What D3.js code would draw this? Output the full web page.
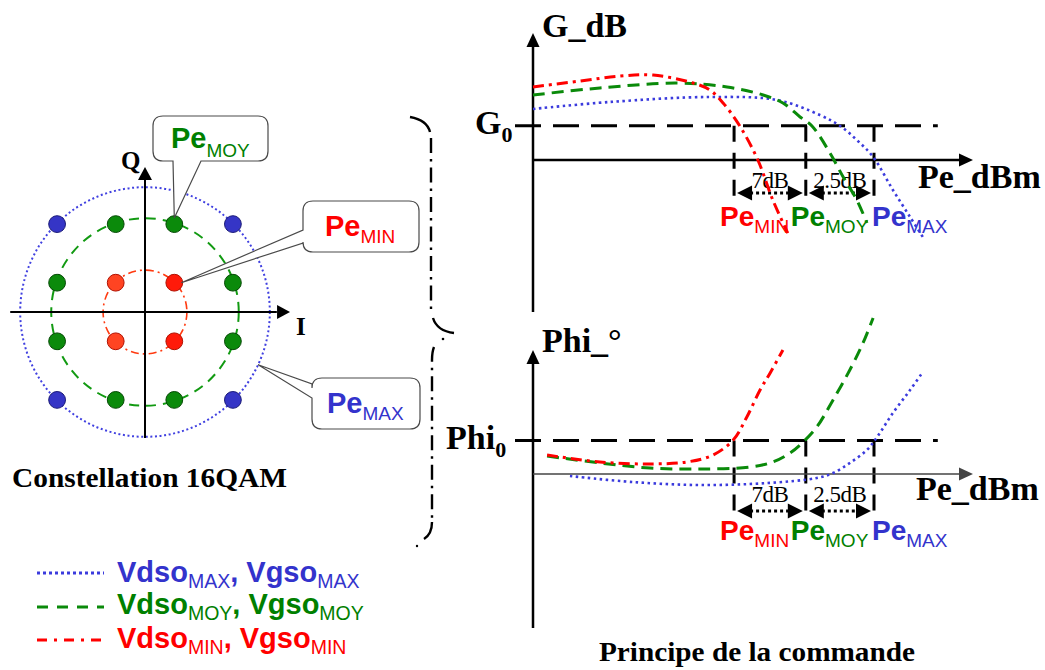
<!DOCTYPE html>
<html>
<head>
<meta charset="utf-8">
<script src="https://cdn.jsdelivr.net/npm/d3@7"></script>
<style>
  html, body { margin: 0; padding: 0; background: #fff; }
  svg { display: block; }
</style>
</head>
<body>
<svg id="fig" width="1045" height="670"></svg>
<script>
// ---------------- data ----------------
// 16QAM constellation levels (I and Q)
const iqLevels = [-3, -1, 1, 3];
// power classes and the amplitude of each ring
const classNames = ["MAX", "MOY", "MIN"];
const ringRadius = [4.26, 3.2, 1.43];

// input powers where each bias setting reaches the reference level (Pe, arbitrary units)
const peMarks = [45.7, 62.0, 77.5];          // Pe MIN, Pe MOY, Pe MAX
const stepLabels = ["7dB", "2.5dB"];
const g0 = 27;                                // reference gain G0
const phi0 = 27;                              // reference phase Phi0

// gain vs input power, one curve per bias setting  [Pe, G]
const gainMax = [[0, 40.2], [17.5, 45.7], [40.2, 49.6], [55.5, 47.2], [65.2, 35.4], [69.8, 26.8],
                 [73.6, 15.7], [77.3, 2.4], [81.8, -23.6], [85.7, -44.9], [88.6, -60.6]];
const gainMoy = [[0, 51.2], [15.2, 56.7], [32.7, 60.6], [44.1, 57.5], [52.3, 51.2], [56.8, 44.9],
                 [60.7, 33.9], [63.4, 26.8], [67.5, 5.5], [70.5, -13.4], [73.6, -31.5], [75.9, -49.6]];
const gainMin = [[0, 57.5], [10.7, 62.2], [19.8, 66.1], [27.3, 66.9], [36.4, 60.6], [40.2, 55.1],
                 [43.2, 44.9], [47.0, 26.8], [51.1, 0], [54.5, -31.5], [57.9, -57.5]];

// phase vs input power  [Pe, Phi]
const phaseMax = [[8.4, -1.6], [22.7, -6.5], [38.0, -8.9], [53.2, -7.3], [64.5, -3.2], [68.2, 0.8],
                  [72.0, 8.9], [75.9, 19.4], [78.2, 29.8], [81.8, 49.2], [85.7, 67.7], [88.6, 82.3]];
const phaseMoy = [[3.2, 14.5], [15.2, 8.9], [26.6, 4.8], [38.0, 4.0], [49.3, 5.6], [54.5, 9.7],
                  [58.4, 16.9], [61.4, 25.8], [64.5, 37.9], [68.2, 59.7], [72.0, 83.9], [75.0, 105.6], [77.3, 125.8]];
const phaseMin = [[3.2, 15.3], [15.2, 9.7], [26.6, 8.1], [35.0, 9.7], [40.9, 15.3], [45.5, 27.4],
                  [48.6, 46.0], [51.6, 67.7], [53.9, 81.5], [56.8, 100]];

// ---------------- styles ----------------
const color = { MAX: "#3333cc", MOY: "#008000", MIN: "#ff0000" };
const curveColor = { MAX: "#3b3bdd", MOY: "#0a8a0a", MIN: "#ff0000" };
const dash = { MAX: "2.5,3.5", MOY: "12,7", MIN: "11,5,3,5" };
const SANS = "'Liberation Sans', Arial, sans-serif";
const SERIF = "'Liberation Serif', 'Times New Roman', serif";

const svg = d3.select("#fig");

// text made of runs, some of them lowered as subscripts
function richText(parent, x, y, parts, o) {
  const t = parent.append("text").attr("x", x).attr("y", y).attr("font-family", o.family || SANS);
  let shift = 0;
  parts.forEach(([s, sub, fill]) => {
    const target = sub ? o.subShift : 0;
    t.append("tspan")
      .attr("dy", target - shift)
      .attr("font-size", sub ? o.small : o.big)
      .attr("font-weight", sub ? (o.subWeight || "normal") : (o.weight || "bold"))
      .attr("fill", fill)
      .text(s);
    shift = target;
  });
  return t;
}

function arrowHead(g, x, y, dir, len, half, fill) {
  const p = {
    up:    [[x, y], [x - half, y + len], [x + half, y + len]],
    right: [[x, y], [x - len, y - half], [x - len, y + half]],
    left:  [[x, y], [x + len, y - half], [x + len, y + half]]
  }[dir];
  g.append("polygon").attr("points", p.map(d => d.join(",")).join(" ")).attr("fill", fill || "#000");
}

// ================= constellation =================
const unit = 29.3, cx = 145, cy = 312;
const iScale = d3.scaleLinear().domain([-3, 3]).range([cx - 3 * unit, cx + 3 * unit]);
const qScale = d3.scaleLinear().domain([-3, 3]).range([cy + 3 * unit, cy - 3 * unit]);
const rPx = v => iScale(v) - iScale(0);

const cons = svg.append("g");

// amplitude rings
const ringStyle = {
  MAX: { stroke: "#4040e0", width: 2, dash: "2,2.6" },
  MOY: { stroke: "#129a12", width: 2, dash: "10,7" },
  MIN: { stroke: "#ff3a10", width: 1.6, dash: "8,4,2,4" }
};
classNames.forEach((n, i) => {
  cons.append("circle")
    .attr("cx", iScale(0)).attr("cy", qScale(0)).attr("r", rPx(ringRadius[i]))
    .attr("fill", "none")
    .attr("stroke", ringStyle[n].stroke)
    .attr("stroke-width", ringStyle[n].width)
    .attr("stroke-dasharray", ringStyle[n].dash);
});

// I / Q axes
cons.append("line").attr("x1", iScale(-4.6)).attr("x2", iScale(4.5))
  .attr("y1", qScale(0)).attr("y2", qScale(0)).attr("stroke", "#000").attr("stroke-width", 2);
arrowHead(cons, iScale(4.95), qScale(0), "right", 13, 7);
cons.append("line").attr("x1", iScale(0)).attr("x2", iScale(0))
  .attr("y1", qScale(-4.3)).attr("y2", qScale(4.6)).attr("stroke", "#000").attr("stroke-width", 2);
arrowHead(cons, iScale(0), qScale(4.95), "up", 13, 7);

cons.append("text").attr("x", 121).attr("y", 169).attr("font-family", SERIF)
  .attr("font-weight", "bold").attr("font-size", 25).text("Q");
cons.append("text").attr("x", 296).attr("y", 335).attr("font-family", SERIF)
  .attr("font-weight", "bold").attr("font-size", 25).text("I");

// symbols
const points = d3.cross(iqLevels, iqLevels);
function symbolClass([i, q]) {
  if (Math.abs(i) === 3 && Math.abs(q) === 3) return "MAX";
  if (Math.abs(i) === 1 && Math.abs(q) === 1) return "MIN";
  return "MOY";
}
const dotFill = { MAX: "#3535c6", MOY: "#0b8a0b", MIN: "#ff1a0a" };
const dotEdge = { MAX: "#1a1a78", MOY: "#064a06", MIN: "#b01000" };
cons.selectAll("circle.sym").data(points).join("circle")
  .attr("class", "sym")
  .attr("cx", d => iScale(d[0])).attr("cy", d => qScale(d[1])).attr("r", 8.4)
  .attr("fill", d => (symbolClass(d) === "MIN" && d[0] < 0) ? "#ff4422" : dotFill[symbolClass(d)])
  .attr("stroke", d => dotEdge[symbolClass(d)]).attr("stroke-width", 1);

// callout boxes
function calloutPath(x, y, w, h, r, side, t0, t1, tip) {
  const p = d3.path();
  p.moveTo(x + r, y);
  p.lineTo(x + w - r, y);
  p.quadraticCurveTo(x + w, y, x + w, y + r);
  p.lineTo(x + w, y + h - r);
  p.quadraticCurveTo(x + w, y + h, x + w - r, y + h);
  if (side === "bottom") { p.lineTo(t1, y + h); p.lineTo(tip[0], tip[1]); p.lineTo(t0, y + h); }
  p.lineTo(x + r, y + h);
  p.quadraticCurveTo(x, y + h, x, y + h - r);
  if (side === "left") { p.lineTo(x, t1); p.lineTo(tip[0], tip[1]); p.lineTo(x, t0); }
  p.lineTo(x, y + r);
  p.quadraticCurveTo(x, y, x + r, y);
  p.closePath();
  return p.toString();
}
const boxStyle = g => g.attr("fill", "#fff").attr("stroke", "#4a4a4a").attr("stroke-width", 1.2);

// Pe MOY -> top edge of symbol (1, 3)
cons.append("path").call(boxStyle)
  .attr("d", calloutPath(153, 116, 115, 45, 10, "bottom", 173, 201, [iScale(1), qScale(3) - 6]));
richText(cons, 171, 148, [["Pe", false, color.MOY], ["MOY", true, color.MOY]],
  { big: 29, small: 19, subShift: 9 });

// Pe MIN -> symbol (1, 1)
cons.append("path").call(boxStyle)
  .attr("d", calloutPath(303, 201, 116, 51, 10, "left", 230, 243, [iScale(1) + 7, qScale(1)]));
richText(cons, 325, 236, [["Pe", false, color.MIN], ["MIN", true, color.MIN]],
  { big: 29, small: 19, subShift: 7 });

// Pe MAX -> outer ring
const ang = -25 * Math.PI / 180;
cons.append("path").call(boxStyle)
  .attr("d", calloutPath(312, 378, 108, 51, 10, "left", 384, 398,
    [iScale(ringRadius[0] * Math.cos(ang)), qScale(ringRadius[0] * Math.sin(ang))]));
richText(cons, 327, 413, [["Pe", false, color.MAX], ["MAX", true, color.MAX]],
  { big: 29, small: 19, subShift: 7 });

cons.append("text").attr("x", 12).attr("y", 487).attr("font-family", SERIF)
  .attr("font-weight", "bold").attr("font-size", 28)
  .attr("textLength", 275).attr("lengthAdjust", "spacingAndGlyphs")
  .text("Constellation 16QAM");

// ================= legend =================
const legend = svg.append("g");
const legendRows = [
  { n: "MAX", lineY: 573, textY: 582 },
  { n: "MOY", lineY: 607, textY: 614 },
  { n: "MIN", lineY: 640, textY: 648 }
];
legendRows.forEach(r => {
  legend.append("line").attr("x1", 37).attr("x2", 104).attr("y1", r.lineY).attr("y2", r.lineY)
    .attr("stroke", curveColor[r.n]).attr("stroke-width", 3)
    .attr("stroke-dasharray", r.n === "MAX" ? "3,3" : (r.n === "MOY" ? "11,9" : "10,7,3,7"));
  const c = color[r.n];
  richText(legend, 117, r.textY,
    [["Vdso", false, c], [r.n, true, c], [", Vgso", false, c], [r.n, true, c]],
    { big: 29, small: 19.5, subShift: 6 });
});

// ================= brace =================
const brace = svg.append("g").attr("fill", "none").attr("stroke", "#000").attr("stroke-width", 2.4);
brace.append("path").attr("d", "M410,117 Q427,120 430,132");
brace.append("path").attr("d", "M431,138 L431,312").attr("stroke-dasharray", "15,6,2.5,6");
brace.append("path").attr("d", "M433,318 Q437,331 454,333");
brace.append("path").attr("d", "M434,347 Q432,352 432,360 L432,520").attr("stroke-dasharray", "15,6,2.5,6");
brace.append("path").attr("d", "M432,522 Q432,534 424,539");
brace.append("circle").attr("cx", 443).attr("cy", 339).attr("r", 1.3).attr("fill", "#000").attr("stroke", "none");
brace.append("circle").attr("cx", 417).attr("cy", 546).attr("r", 1.2).attr("fill", "#000").attr("stroke", "none");

// ================= transfer curves =================
const xScale = d3.scaleLinear().domain([0, 100]).range([533, 973]);
const gainScale = d3.scaleLinear().domain([0, 100]).range([160, 33]);
const phaseScale = d3.scaleLinear().domain([0, 100]).range([474, 350]);

function drawChart(cfg) {
  const g = svg.append("g");
  const y = cfg.y;
  const x0 = xScale(0);
  const yRef = y(cfg.ref);

  // reference level
  g.append("line").attr("x1", x0 - 18).attr("x2", xScale(92)).attr("y1", yRef).attr("y2", yRef)
    .attr("stroke", "#000").attr("stroke-width", 3).attr("stroke-dasharray", "26,12");

  // drop lines at each Pe
  peMarks.forEach(p => {
    g.append("line").attr("x1", xScale(p)).attr("x2", xScale(p))
      .attr("y1", yRef).attr("y2", cfg.dropBottom)
      .attr("stroke", "#000").attr("stroke-width", 3).attr("stroke-dasharray", "16,11");
  });

  // axes
  g.append("line").attr("x1", x0).attr("x2", x0).attr("y1", cfg.yAxisBottom).attr("y2", y.range()[1] + 8)
    .attr("stroke", "#000").attr("stroke-width", 2.5);
  arrowHead(g, x0, y.range()[1], "up", 14, 6.5);
  g.append("line").attr("x1", x0).attr("x2", xScale(100) - 8).attr("y1", y(0)).attr("y2", y(0))
    .attr("stroke", cfg.xAxisColor).attr("stroke-width", cfg.xAxisWidth);
  arrowHead(g, xScale(100), y(0), "right", 14, 6.5, cfg.xAxisColor);

  // axis titles
  g.append("text").attr("x", 542).attr("y", cfg.titleY).attr("font-family", SERIF)
    .attr("font-weight", "bold").attr("font-size", 34).text(cfg.title);
  g.append("text").attr("x", cfg.peTitleX).attr("y", cfg.peTitleY).attr("font-family", SERIF)
    .attr("font-weight", "bold").attr("font-size", 34).text("Pe_dBm");
  richText(g, cfg.refLabelX, yRef + 8, [[cfg.refLabel, false, "#000"], ["0", true, "#000"]],
    { family: SERIF, big: 34, small: 22, subShift: 8, subWeight: "bold" });

  // power steps between marks
  for (let i = 0; i < peMarks.length - 1; i++) {
    const a = xScale(peMarks[i]), b = xScale(peMarks[i + 1]);
    g.append("line").attr("x1", a + 16).attr("x2", b - 16).attr("y1", cfg.dimY).attr("y2", cfg.dimY)
      .attr("stroke", "#000").attr("stroke-width", 3).attr("stroke-dasharray", "3,3");
    arrowHead(g, a + 3, cfg.dimY, "left", 15, 7.5);
    arrowHead(g, b - 3, cfg.dimY, "right", 15, 7.5);
    g.append("text").attr("x", (a + b) / 2).attr("y", cfg.dimLabelY).attr("text-anchor", "middle")
      .attr("font-family", SERIF).attr("font-size", 23).attr("letter-spacing", -0.5).text(stepLabels[i]);
  }

  // Pe labels under the drop lines
  const labelOffset = [-14, -15, -2];
  ["MIN", "MOY", "MAX"].forEach((n, i) => {
    richText(g, xScale(peMarks[i]) + labelOffset[i], cfg.peLabelY,
      [["Pe", false, color[n]], [n, true, color[n]]], { big: 28, small: 19, subShift: 7 });
  });

  // curves
  const line = d3.line().x(d => xScale(d[0])).y(d => y(d[1])).curve(d3.curveCatmullRom.alpha(0.5));
  cfg.series.forEach(([n, data]) => {
    g.append("path").datum(data).attr("d", line).attr("fill", "none")
      .attr("stroke", curveColor[n]).attr("stroke-width", n === "MAX" ? 2.6 : 3)
      .attr("stroke-dasharray", dash[n]);
  });
}

drawChart({
  y: gainScale, ref: g0, title: "G_dB", titleY: 37, refLabel: "G", refLabelX: 475,
  yAxisBottom: 312, xAxisColor: "#000", xAxisWidth: 2.5,
  dropBottom: 202, dimY: 193, dimLabelY: 188, peLabelY: 226,
  peTitleX: 918, peTitleY: 188,
  series: [["MAX", gainMax], ["MOY", gainMoy], ["MIN", gainMin]]
});

drawChart({
  y: phaseScale, ref: phi0, title: "Phi_°", titleY: 352, refLabel: "Phi", refLabelX: 446,
  yAxisBottom: 628, xAxisColor: "#444", xAxisWidth: 1.6,
  dropBottom: 516, dimY: 511, dimLabelY: 502, peLabelY: 540,
  peTitleX: 916, peTitleY: 500,
  series: [["MAX", phaseMax], ["MOY", phaseMoy], ["MIN", phaseMin]]
});

svg.append("text").attr("x", 599).attr("y", 661).attr("font-family", SERIF)
  .attr("font-weight", "bold").attr("font-size", 27)
  .attr("textLength", 316).attr("lengthAdjust", "spacingAndGlyphs")
  .text("Principe de la commande");
</script>
</body>
</html>
